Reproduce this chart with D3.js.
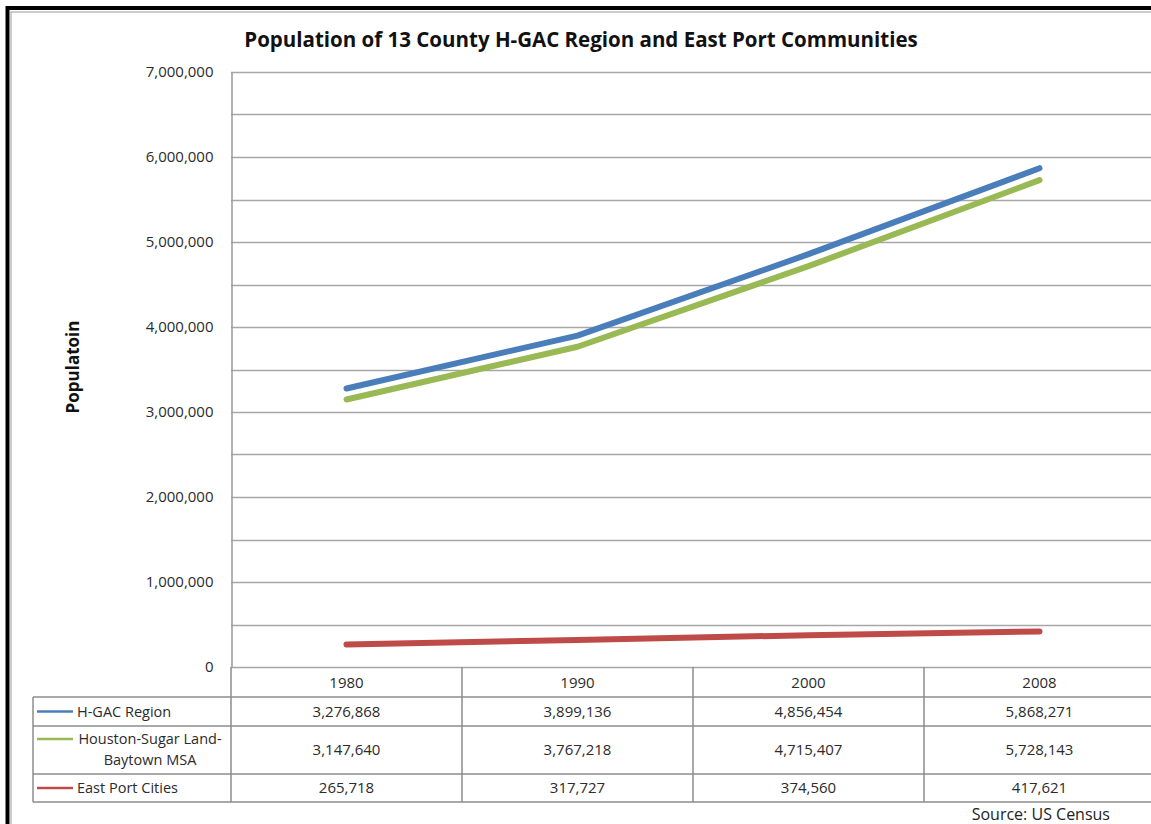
<!DOCTYPE html>
<html>
<head>
<meta charset="utf-8">
<script src="https://cdn.jsdelivr.net/npm/d3@7"></script>
<style>
  body { margin: 0; background: #fff; }
  svg { display: block; font-family: "Open Sans", sans-serif; }
</style>
</head>
<body>
<div id="chart"></div>
<script>
// data
var years = ["1980", "1990", "2000", "2008"];
var seriesNames = ["H-GAC Region", "Houston-Sugar Land-Baytown MSA", "East Port Cities"];
var hgac = [3276868, 3899136, 4856454, 5868271];
var houston = [3147640, 3767218, 4715407, 5728143];
var eastPort = [265718, 317727, 374560, 417621];
var colors = ["#4a7ebb", "#98b954", "#be4b48"];
var yTicks = [0, 1000000, 2000000, 3000000, 4000000, 5000000, 6000000, 7000000];

var W = 1151, H = 824;
var plot = {left: 231, right: 1155, top: 72, bottom: 667};

var svg = d3.select("#chart").append("svg")
    .attr("width", W)
    .attr("height", H);

// frame
svg.append("rect").attr("x", 11).attr("y", 12).attr("width", W + 20).attr("height", H + 20)
    .attr("fill", "none").attr("stroke", "#999").attr("stroke-width", 1);
svg.append("line").attr("x1", 7.5).attr("x2", 7.5).attr("y1", 6).attr("y2", H)
    .attr("stroke", "#000").attr("stroke-width", 4);
svg.append("line").attr("x1", 6).attr("x2", W).attr("y1", 8).attr("y2", 8)
    .attr("stroke", "#000").attr("stroke-width", 4);

// title
svg.append("text")
    .attr("x", 581).attr("y", 47)
    .attr("text-anchor", "middle")
    .attr("font-size", 20.5).attr("font-weight", "bold").attr("fill", "#111")
    .text("Population of 13 County H-GAC Region and East Port Communities");

var x = d3.scaleBand().domain(years).range([plot.left, plot.right]);
var y = d3.scaleLinear().domain([0, 7000000]).range([plot.bottom, plot.top]);

// gridlines every 500,000
var gridVals = d3.range(0, 7000001, 500000);
svg.append("g").selectAll("line")
  .data(gridVals)
  .enter().append("line")
    .attr("x1", plot.left).attr("x2", plot.right)
    .attr("y1", function(d) { return Math.round(y(d)) + 0.5; })
    .attr("y2", function(d) { return Math.round(y(d)) + 0.5; })
    .attr("stroke", "#a6a6a6").attr("stroke-width", 1.5);

// y axis
var yAxis = svg.append("g")
    .attr("transform", "translate(" + (plot.left + 0.5) + ",0)")
    .call(d3.axisLeft(y).tickValues(yTicks).tickSize(0).tickPadding(18)
      .tickFormat(function(d) { return d === 0 ? "0" : d3.format(",")(d); }));
yAxis.select(".domain").attr("stroke", "#999").attr("stroke-width", 1.5);
yAxis.selectAll("text").attr("font-family", "'Open Sans', sans-serif").attr("font-size", 15).attr("fill", "#2b2b2b");

svg.append("text")
    .attr("transform", "translate(79,367) rotate(-90)")
    .attr("text-anchor", "middle")
    .attr("font-size", 17).attr("font-weight", "bold").attr("fill", "#111")
    .text("Populatoin");

// lines
var allSeries = [hgac, houston, eastPort];
var line = d3.line()
    .x(function(d, i) { return x(years[i]) + x.bandwidth() / 2; })
    .y(function(d) { return y(d); });

svg.append("g").selectAll("path")
  .data(allSeries)
  .enter().append("path")
    .attr("d", line)
    .attr("fill", "none")
    .attr("stroke", function(d, i) { return colors[i]; })
    .attr("stroke-width", 6)
    .attr("stroke-linecap", "round")
    .attr("stroke-linejoin", "round");

// data table
var rowTops = [697, 726, 774, 802];
var tableLeft = 33;
var tg = svg.append("g").attr("stroke", "#8c8c8c").attr("stroke-width", 1.5);

rowTops.forEach(function(r) {
  tg.append("line").attr("x1", tableLeft).attr("x2", plot.right).attr("y1", r).attr("y2", r);
});
tg.append("line").attr("x1", tableLeft).attr("x2", tableLeft).attr("y1", rowTops[0]).attr("y2", rowTops[3]);
years.forEach(function(yr) {
  var xx = x(yr);
  tg.append("line").attr("x1", xx).attr("x2", xx).attr("y1", plot.bottom).attr("y2", rowTops[3]);
});

// header years
svg.append("g").selectAll("text")
  .data(years)
  .enter().append("text")
    .attr("x", function(d) { return x(d) + x.bandwidth() / 2; })
    .attr("y", 688)
    .attr("text-anchor", "middle")
    .attr("font-size", 15).attr("fill", "#2b2b2b")
    .text(function(d) { return d; });

var fmt = d3.format(",");
allSeries.forEach(function(vals, si) {
  var cy = (rowTops[si] + rowTops[si + 1]) / 2;
  var ky = si === 1 ? cy - 11 : cy;
  // legend key
  svg.append("line")
    .attr("x1", 37).attr("x2", 73).attr("y1", ky).attr("y2", ky)
    .attr("stroke", colors[si]).attr("stroke-width", 2.5);
  if (si === 1) {
    svg.append("text").attr("x", 150).attr("y", cy - 6)
      .attr("text-anchor", "middle").attr("font-size", 14.5).attr("fill", "#2b2b2b")
      .text("Houston-Sugar Land-");
    svg.append("text").attr("x", 150).attr("y", cy + 15)
      .attr("text-anchor", "middle").attr("font-size", 14.5).attr("fill", "#2b2b2b")
      .text("Baytown MSA");
  } else {
    svg.append("text").attr("x", 77).attr("y", cy + 5)
      .attr("font-size", 14.5).attr("fill", "#2b2b2b")
      .text(seriesNames[si]);
  }
  vals.forEach(function(v, i) {
    svg.append("text")
      .attr("x", x(years[i]) + x.bandwidth() / 2)
      .attr("y", cy + 5)
      .attr("text-anchor", "middle")
      .attr("font-size", 15).attr("fill", "#2b2b2b")
      .text(fmt(v));
  });
});

svg.append("text")
    .attr("x", 1110).attr("y", 820)
    .attr("text-anchor", "end")
    .attr("font-size", 16).attr("fill", "#222")
    .text("Source: US Census");
</script>
</body>
</html>
